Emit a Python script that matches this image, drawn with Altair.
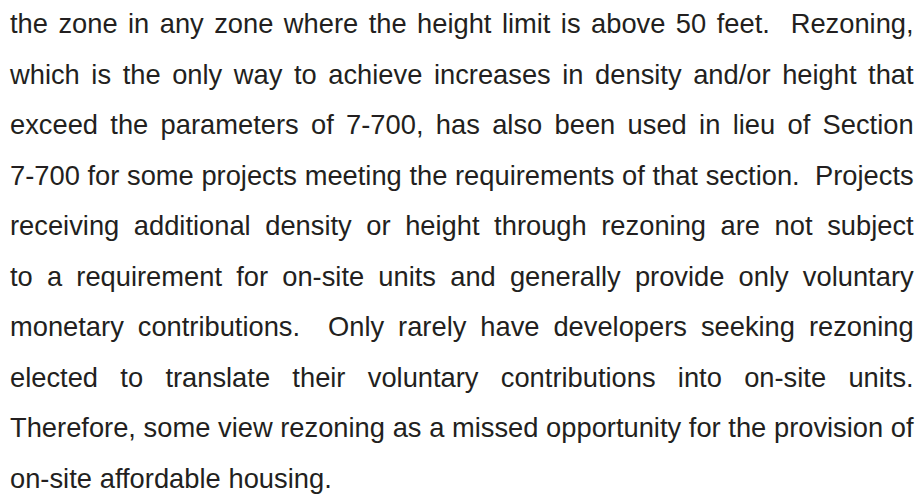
import altair as alt
import pandas as pd

# ---- content -------------------------------------------------------------
LINES = [
    "the zone in any zone where the height limit is above 50 feet.  Rezoning,",
    "which is the only way to achieve increases in density and/or height that",
    "exceed the parameters of 7-700, has also been used in lieu of Section",
    "7-700 for some projects meeting the requirements of that section.  Projects",
    "receiving additional density or height through rezoning are not subject",
    "to a requirement for on-site units and generally provide only voluntary",
    "monetary contributions.  Only rarely have developers seeking rezoning",
    "elected to translate their voluntary contributions into on-site units.",
    "Therefore, some view rezoning as a missed opportunity for the provision of",
    "on-site affordable housing.",
]
JUSTIFIED = [True] * 9 + [False]

# ---- style ---------------------------------------------------------------
FONT = "Liberation Sans"
FONT_SIZE = 27.3
TEXT_COLOR = "#231f20"
LINE_EM = 33.1          # justified measure, in em
LEFT_PX = 2
FIRST_BASELINE = 25
LEADING = 50.55

# Arial / Liberation Sans advance widths (1/1000 em)
ADV = {
    " ": 278, ",": 278, ".": 278, "-": 333, "/": 278,
    "0": 556, "1": 556, "2": 556, "3": 556, "4": 556, "5": 556,
    "6": 556, "7": 556, "8": 556, "9": 556,
    "a": 556, "b": 556, "c": 500, "d": 556, "e": 556, "f": 278, "g": 556,
    "h": 556, "i": 222, "j": 222, "k": 500, "l": 222, "m": 833, "n": 556,
    "o": 556, "p": 556, "q": 556, "r": 333, "s": 500, "t": 278, "u": 556,
    "v": 500, "w": 722, "x": 500, "y": 500, "z": 500,
    "A": 667, "B": 667, "C": 722, "D": 722, "E": 667, "F": 611, "G": 778,
    "H": 722, "I": 278, "J": 500, "K": 667, "L": 556, "M": 833, "N": 722,
    "O": 778, "P": 667, "Q": 778, "R": 722, "S": 667, "T": 611, "U": 722,
    "V": 667, "W": 944, "X": 667, "Y": 667, "Z": 611,
}


def em_width(s):
    return sum(ADV.get(c, 556) for c in s) / 1000.0


rows = []
for i, line in enumerate(LINES):
    tokens = line.split(" ")
    n = len(tokens)
    widths = [em_width(t) for t in tokens]
    if JUSTIFIED[i]:
        gap = (LINE_EM - sum(widths)) / (n - 1)
    else:
        gap = ADV[" "] / 1000.0
    pos = 0.0
    for k, (t, w) in enumerate(zip(tokens, widths)):
        if t:
            if k == 0:
                anchor, x = "left", pos
            elif k == n - 1 and JUSTIFIED[i]:
                anchor, x = "right", LINE_EM
            else:
                anchor, x = "center", pos + w / 2
            rows.append({"word": t, "line": i, "x": x, "anchor": anchor})
        pos += w + gap

df = pd.DataFrame(rows)

xscale = alt.Scale(domain=[0, LINE_EM], range=[LEFT_PX, LEFT_PX + LINE_EM * FONT_SIZE], nice=False, zero=False)
yscale = alt.Scale(domain=[0, len(LINES) - 1],
                   range=[FIRST_BASELINE, FIRST_BASELINE + LEADING * (len(LINES) - 1)],
                   nice=False, zero=False)

base = alt.Chart(df).encode(
    x=alt.X("x:Q", scale=xscale, axis=None),
    y=alt.Y("line:Q", scale=yscale, axis=None),
    text=alt.Text("word:N"),
)

layers = []
for a in ["left", "center", "right"]:
    layers.append(
        base.transform_filter(alt.datum.anchor == a).mark_text(
            align=a, baseline="alphabetic", font=FONT, fontSize=FONT_SIZE, color=TEXT_COLOR
        )
    )

chart = alt.layer(*layers).properties(
    width=907, height=486, autosize=alt.AutoSizeParams(type="none"), padding=0,
    background="white",
).configure_view(stroke=None)

chart.save("out.html", embed_options={"renderer": "svg", "actions": False})
